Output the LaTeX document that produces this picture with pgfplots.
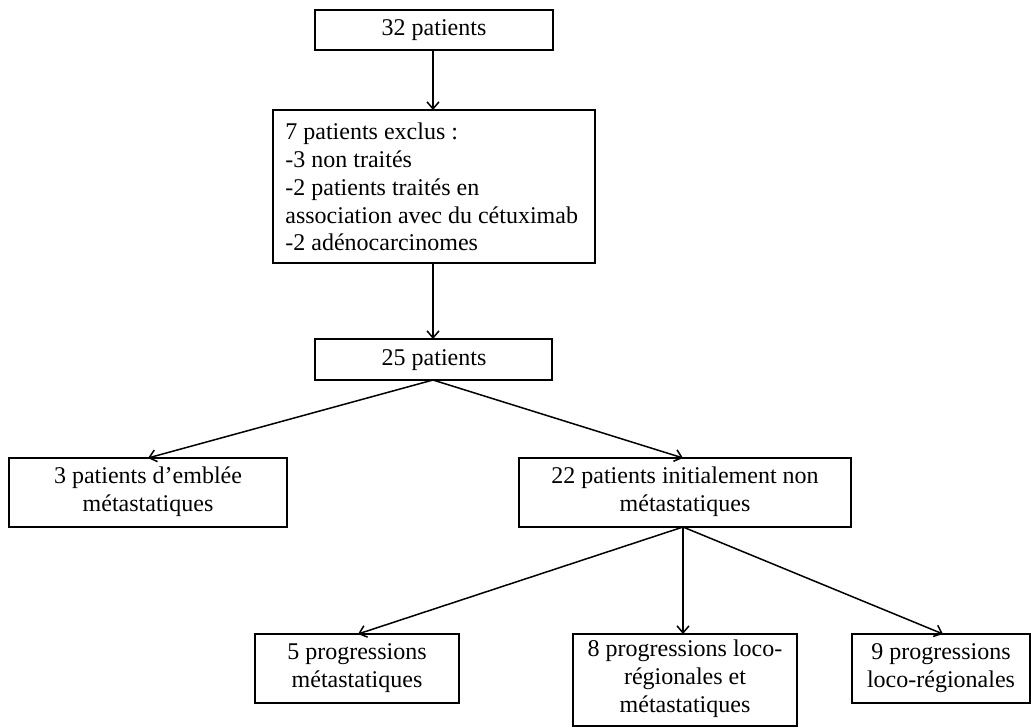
\documentclass[border=0pt]{standalone}
\usepackage{fontspec}
\setmainfont{Liberation Serif}
\usepackage{pgfplots}
\pgfplotsset{compat=1.18}
\usetikzlibrary{arrows.meta}

\tikzset{
  lbl/.style={font=\fontsize{12}{13.9}\selectfont, align=center, inner sep=0pt},
  bx/.style={black, solid, mark=none, line width=0.75pt, line cap=rect, line join=miter},
  arr/.style={black, solid, mark=none, line width=0.75pt, -{Straight Barb[length=3.5pt,width=6pt]}},
}

\begin{document}
\begin{tikzpicture}
\begin{axis}[
    width=515.5pt, height=363.5pt, scale only axis,
    xmin=0, xmax=1031, ymin=0, ymax=727,
    y dir=reverse,
    hide axis, clip=false,
]
% boxes (pixel corners)
\addplot[bx] coordinates {(315,10) (553,10) (553,50) (315,50) (315,10)};
\addplot[bx] coordinates {(273,110) (595,110) (595,263) (273,263) (273,110)};
\addplot[bx] coordinates {(315,339) (552,339) (552,380) (315,380) (315,339)};
\addplot[bx] coordinates {(9,458) (287,458) (287,527) (9,527) (9,458)};
\addplot[bx] coordinates {(519,458) (851,458) (851,527) (519,527) (519,458)};
\addplot[bx] coordinates {(255,634) (459,634) (459,703) (255,703) (255,634)};
\addplot[bx] coordinates {(573,634) (797,634) (797,726) (573,726) (573,634)};
\addplot[bx] coordinates {(852,634) (1030,634) (1030,703) (852,703) (852,634)};

% arrows
\addplot[arr] coordinates {(433,50) (433,110)};
\addplot[arr] coordinates {(433,263) (433,339)};
\addplot[arr] coordinates {(433,380) (148,458)};
\addplot[arr] coordinates {(433,380) (683,458)};
\addplot[arr] coordinates {(683,527) (358,634)};
\addplot[arr] coordinates {(683,527) (683,634)};
\addplot[arr] coordinates {(683,527) (943,634)};

% labels
\node[lbl] at (axis cs:434,30) {32 patients};
\node[lbl, anchor=west, align=left] at (axis cs:285,187) {7 patients exclus :\\-3 non traités\\-2 patients traités en\\association avec du cétuximab\\-2 adénocarcinomes};
\node[lbl] at (axis cs:434,360) {25 patients};
\node[lbl] at (axis cs:148,492) {3 patients d’emblée\\métastatiques};
\node[lbl] at (axis cs:685,492) {22 patients initialement non\\métastatiques};
\node[lbl] at (axis cs:357,668) {5 progressions\\métastatiques};
\node[lbl] at (axis cs:685,679) {8 progressions loco-\\régionales et\\métastatiques};
\node[lbl] at (axis cs:941,668) {9 progressions\\loco-régionales};
\end{axis}
\pgfresetboundingbox
\path (current axis.south west) rectangle (current axis.north east);
\end{tikzpicture}
\end{document}
